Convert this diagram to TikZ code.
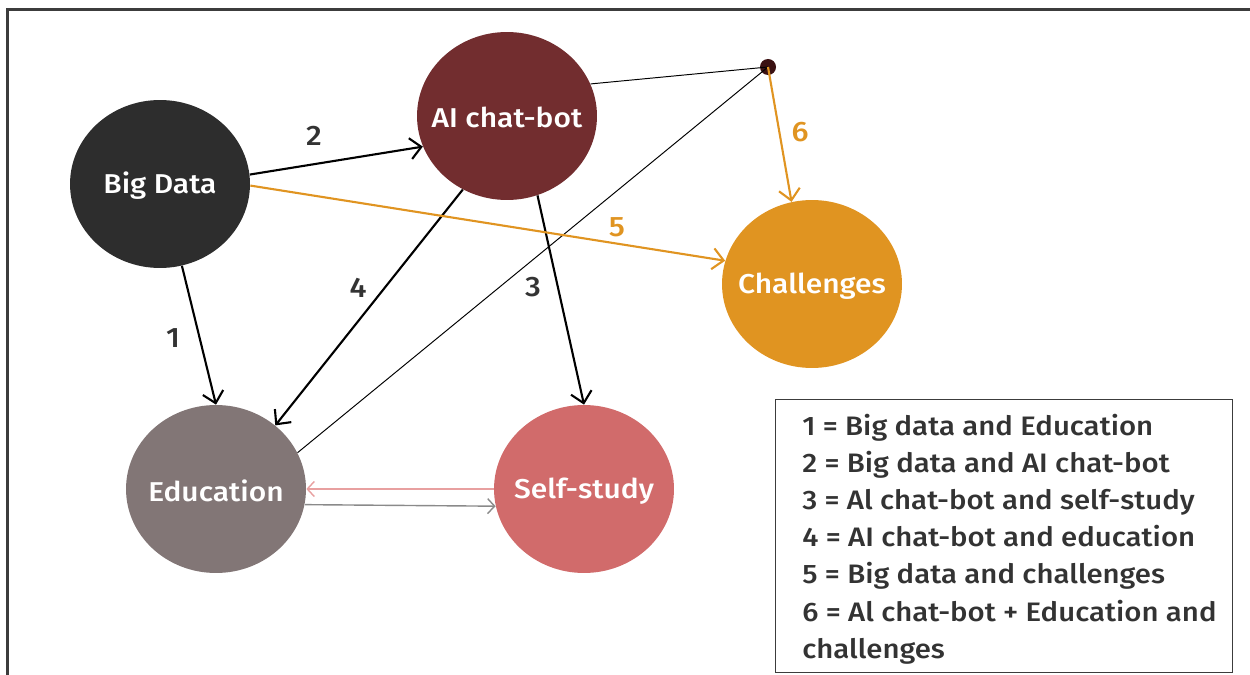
\documentclass[tikz,border=0pt]{standalone}
\usepackage{fontspec}
\setmainfont{Fira Sans Medium}[FakeStretch=1.1]
\usetikzlibrary{shapes.geometric,arrows.meta}

\definecolor{bdcol}{HTML}{2D2D2D}
\definecolor{aicol}{HTML}{722D2F}
\definecolor{chcol}{HTML}{E09421}
\definecolor{edcol}{HTML}{827676}
\definecolor{sscol}{HTML}{D16B6B}
\definecolor{hubcol}{HTML}{3B1112}
\definecolor{inkcol}{HTML}{333333}
\definecolor{pinkcol}{HTML}{E8A0A0}
\definecolor{greycol}{HTML}{8A8A8A}
\definecolor{framecol}{HTML}{3C3C3C}

\tikzset{
  topic/.style={ellipse, minimum width=3.6cm, minimum height=3.36cm, inner sep=0pt,
    label={[text=white, font=\fontsize{15.5}{18}\selectfont, yshift=-1pt]center:#1}},
  tip/.style={-{Straight Barb[length=2.2mm, width=4.2mm, line width=1.2pt]}},
  mainlink/.style={draw=black, line width=1.2pt, tip},
  orangelink/.style={draw=chcol, line width=1.2pt, tip},
  thinlink/.style={draw=black, line width=0.55pt},
  numlabel/.style={text=inkcol, font=\fontsize{16}{18}\selectfont},
  orangelabel/.style={numlabel, text=chcol},
}

\begin{document}
\begin{tikzpicture}[x=0.02cm, y=-0.02cm]
  \useasboundingbox (0,0) rectangle (1250,675);

  % outer frame (top and left edges)
  \draw[framecol, line width=1.3pt] (7.5,675) -- (7.5,9.5) -- (1250,9.5);

  % topics
  \node[topic=Big Data, fill=bdcol]     (bd)  at (160,184) {};
  \node[topic=AI chat-bot, fill=aicol]  (ai)  at (507,116) {};
  \node[topic=Challenges, fill=chcol]   (ch)  at (812,284) {};
  \node[topic=Education, fill=edcol]    (ed)  at (216,489) {};
  \node[topic=Self-study, fill=sscol]   (ss)  at (584,489) {};
  \node[circle, fill=hubcol, minimum size=0.32cm, inner sep=0pt] (hub) at (768,67) {};

  % thin connectors meeting at the hub
  \draw[thinlink] (ai.21) -- (hub.center);
  \draw[thinlink] (ed.24) -- (hub.center);

  % numbered relations
  \draw[mainlink] (bd.6) -- (ai.200);
  \draw[mainlink] (bd.-75) -- (ed.90);
  \draw[mainlink] (ai.-121) -- (ed.47);
  \draw[mainlink] (ai.-69) -- (ss.90);
  \draw[orangelink] (bd.-1) -- (ch.165);
  \draw[orangelink] (hub.center) -- (ch.104);

  % two-way link between education and self-study
  \draw[draw=pinkcol, line width=0.8pt, -{Straight Barb[length=1.4mm, width=3mm]}] (ss.180) -- (ed.0);
  \draw[draw=greycol, line width=0.8pt, -{Straight Barb[length=1.4mm, width=3mm]}] (ed.-10) -- (ss.191);

  % relation numbers
  \node[numlabel] (n1) at (173,338) {1};
  \node[numlabel] (n2) at (314,136) {2};
  \node[numlabel] (n3) at (533,287) {3};
  \node[numlabel] (n4) at (358,288) {4};
  \node[orangelabel] (n5) at (617,227) {5};
  \node[orangelabel] (n6) at (800,132) {6};

  % legend
  \node[draw=framecol, line width=0.7pt, minimum width=9.14cm, minimum height=5.46cm,
        anchor=north west, inner sep=0pt] (legend) at (775,399) {};
  \node[anchor=north west, inner sep=0pt, align=left, text=inkcol,
        font=\fontsize{15.2}{21.1}\selectfont] (legtext) at (802,414)
    {1 = Big data and Education\\
     2 = Big data and AI chat-bot\\
     3 = Al chat-bot and self-study\\
     4 = AI chat-bot and education\\
     5 = Big data and challenges\\
     6 = Al chat-bot + Education and\\
     challenges};
\end{tikzpicture}
\end{document}
